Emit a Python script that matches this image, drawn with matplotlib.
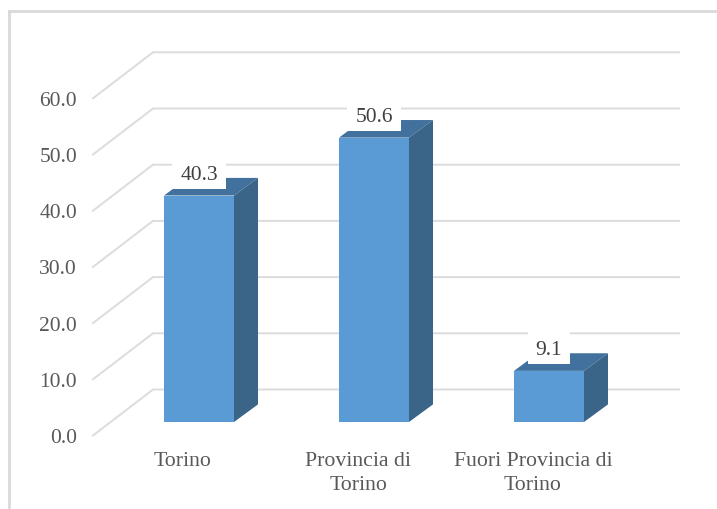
import matplotlib
matplotlib.use('Agg')
import matplotlib.pyplot as plt
from matplotlib.patches import Polygon, Rectangle

categories = ['Torino', 'Provincia di\nTorino', 'Fuori Provincia di\nTorino']
values = [40.3, 50.6, 9.1]
value_labels = ['40.3', '50.6', '9.1']
ticks = [0, 10, 20, 30, 40, 50, 60]
tick_labels = ['0.0', '10.0', '20.0', '30.0', '40.0', '50.0', '60.0']

W, H = 717, 509
PX_X = 175.0   # pixels per category
PX_Y = 5.62    # pixels per value unit
X0, Y0 = 199, 422  # first bar centre, bar baseline

bar_w = 70 / PX_X
dep_x = 24 / PX_X
dep_y = 17.6 / PX_Y
# wall / floor of the fake 3d box, relative to the bar baseline
floor_x = -106 / PX_X
floor_y = -13.5 / PX_Y
back_x = -46 / PX_X
back_y = 32.5 / PX_Y
right_x = 480 / PX_X

grid_c = '#dcdcdc'
text_c = '#595959'

plt.rcParams['font.family'] = ['Liberation Serif', 'DejaVu Serif']

fig = plt.figure(figsize=(W / 100, H / 100), dpi=100)
ax = fig.add_axes([0, 0, 1, 1])
ax.set_xlim(-X0 / PX_X, (W - X0) / PX_X)
ax.set_ylim((Y0 - H) / PX_Y, Y0 / PX_Y)
ax.axis('off')

# outer frame, only left and top are in the picture
fx0 = 8.7 / W
fy1 = 1 - 11 / H
ax.plot([fx0, fx0], [0, fy1], transform=ax.transAxes, color='#d9d9d9', lw=2, zorder=1)
ax.plot([fx0, 1], [fy1, fy1], transform=ax.transAxes, color='#d9d9d9', lw=2, zorder=1)

# gridlines
for t, lab in zip(ticks, tick_labels):
    ax.plot([floor_x, back_x, right_x], [t + floor_y, t + back_y, t + back_y],
            color=grid_c, lw=1.4, zorder=2, solid_joinstyle='miter')
    ax.annotate(lab, (floor_x, t + floor_y), xytext=(-16, -3), textcoords='offset pixels',
                ha='right', va='center', fontsize=15.5, color=text_c, zorder=6)

# bars
for i, v in enumerate(values):
    l, r = i - bar_w / 2, i + bar_w / 2
    ax.add_patch(Polygon([(l, v), (r, v), (r + dep_x, v + dep_y), (l + dep_x, v + dep_y)],
                         fc='#41719c', ec='none', zorder=3))
    ax.add_patch(Polygon([(r, 0), (r + dep_x, dep_y), (r + dep_x, v + dep_y), (r, v)],
                         fc='#3a6589', ec='none', zorder=3))
    ax.bar(i, v, width=bar_w, color='#5b9bd5', zorder=4)
    # white box behind the value, leaves part of the top face showing
    box_w = (54 if i < 2 else 42) / PX_X
    ax.add_patch(Rectangle((i - box_w / 2, v + 7 / PX_Y), box_w, 32 / PX_Y,
                           fc='white', ec='none', zorder=5))
    ax.annotate(value_labels[i], (i, v), xytext=(0, 20), textcoords='offset pixels',
                ha='center', va='center', fontsize=15.5, color='#404040', zorder=7)
    ax.annotate(categories[i], (i, 0), xytext=(-16, -30), textcoords='offset pixels',
                ha='center', va='top', fontsize=15.7, color=text_c, linespacing=1.33, zorder=6)

fig.savefig('out.png', dpi=100)
